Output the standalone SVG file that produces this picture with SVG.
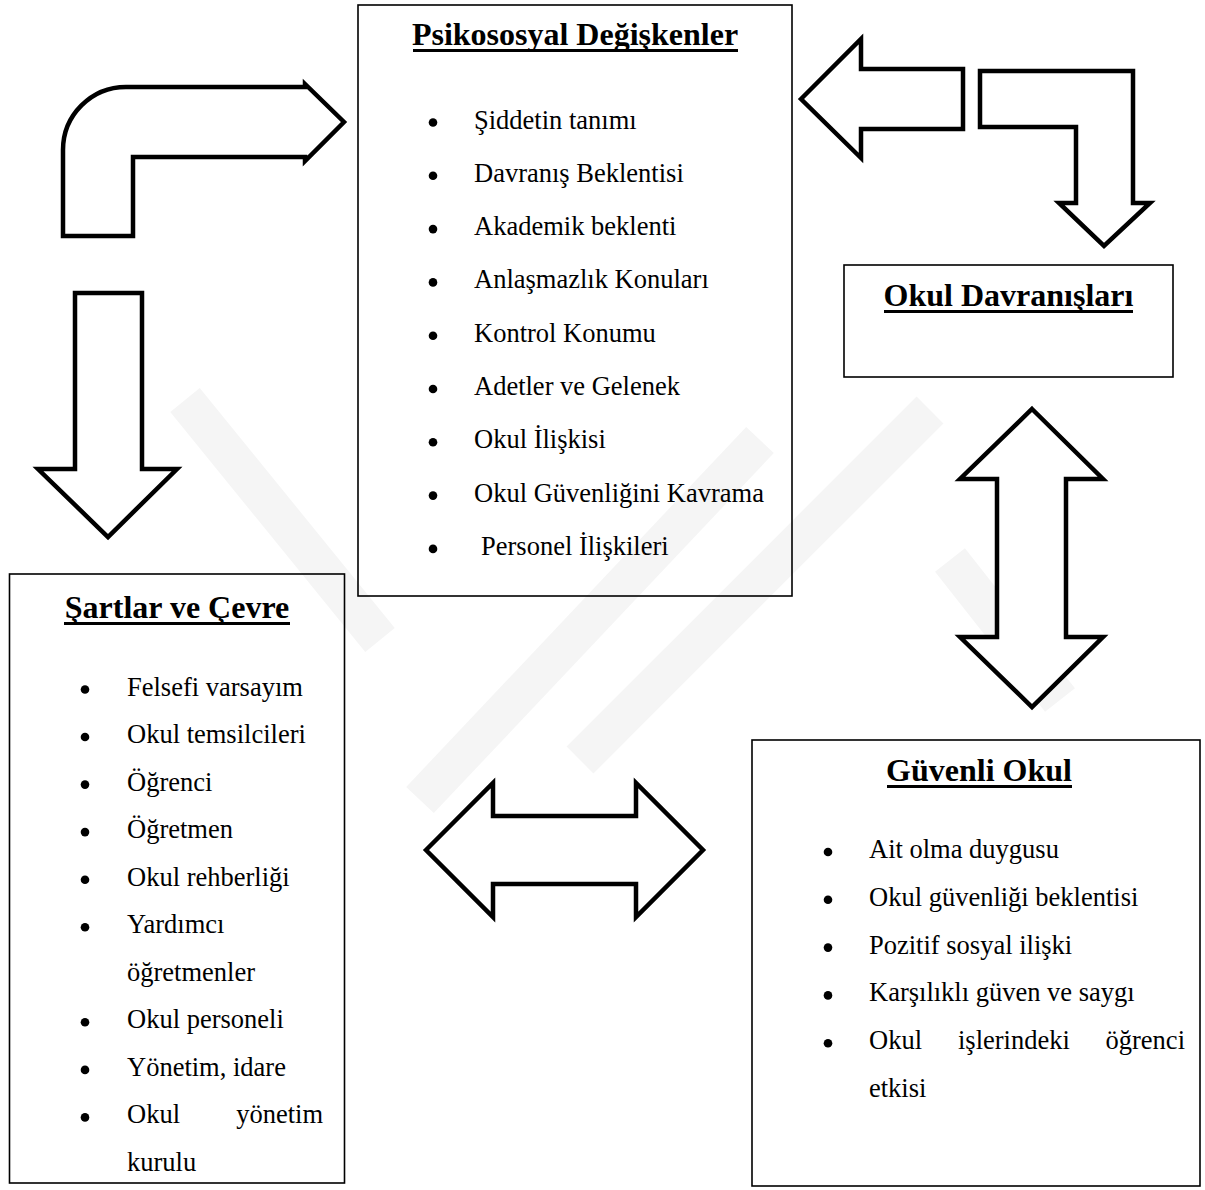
<svg xmlns="http://www.w3.org/2000/svg" width="1205" height="1190" viewBox="0 0 1205 1190">
<style>
.box{fill:none;stroke:#000;stroke-width:1.6}
.arr{fill:#fff;stroke:#000;stroke-width:4.5;stroke-linejoin:miter;stroke-miterlimit:10}
.t{font-family:"Liberation Serif","Times New Roman",serif;font-size:26.5px;fill:#000}
.h{font-family:"Liberation Serif","Times New Roman",serif;font-size:32px;font-weight:bold;fill:#000;text-anchor:middle}
.b{fill:#000}
.wm{fill:none;stroke:#f5f5f5;stroke-width:38;stroke-linecap:butt}
</style>
<rect width="1205" height="1190" fill="#fff"/>
<g id="watermark">
<line class="wm" x1="185" y1="400" x2="380" y2="640"/>
<line class="wm" x1="420" y1="800" x2="760" y2="440"/>
<line class="wm" x1="580" y1="760" x2="930" y2="410"/>
<line class="wm" x1="950" y1="560" x2="1060" y2="700"/>
</g>
<g id="connectors">
<path id="bent-arrow-left" class="arr" d="M63 236 L63 150 A63 63 0 0 1 126 87 L305 87 L305 84 L344 122 L305 161 L305 157 L133 157 L133 236 Z"/>
<path id="down-arrow-left" class="arr" d="M75 293 L142 293 L142 469 L177 469 L108 537 L38 469 L75 469 Z"/>
<path id="left-arrow-top" class="arr" d="M801 99 L861 39 L861 69 L963 69 L963 129 L861 129 L861 158 Z"/>
<path id="bent-arrow-right" class="arr" d="M980 71 L1133 71 L1133 203 L1150 203 L1104 246 L1059 203 L1076 203 L1076 127 L980 127 Z"/>
<path id="updown-arrow" class="arr" d="M1032 409 L1103 479 L1066 479 L1066 637 L1103 637 L1032 707 L960 637 L997 637 L997 479 L960 479 Z"/>
<path id="leftright-arrow" class="arr" d="M426 850 L493 783 L493 816 L636 816 L636 783 L703 850 L636 917 L636 884 L493 884 L493 917 Z"/>
</g>
<g id="psikososyal">
<rect class="box" x="358" y="5" width="434" height="591"/>
<text class="h" x="575" y="45">Psikososyal Değişkenler</text>
<rect x="413" y="49" width="325" height="3" fill="#000"/>
<g class="b">
<circle cx="433" cy="122.5" r="4.3"/><circle cx="433" cy="175.8" r="4.3"/><circle cx="433" cy="229.1" r="4.3"/>
<circle cx="433" cy="282.4" r="4.3"/><circle cx="433" cy="335.7" r="4.3"/><circle cx="433" cy="389" r="4.3"/>
<circle cx="433" cy="442.3" r="4.3"/><circle cx="433" cy="495.6" r="4.3"/><circle cx="433" cy="548.9" r="4.3"/>
</g>
<text class="t" x="474" y="128.5">Şiddetin tanımı</text>
<text class="t" x="474" y="181.8">Davranış Beklentisi</text>
<text class="t" x="474" y="235.1">Akademik beklenti</text>
<text class="t" x="474" y="288.4">Anlaşmazlık Konuları</text>
<text class="t" x="474" y="341.7">Kontrol Konumu</text>
<text class="t" x="474" y="395">Adetler ve Gelenek</text>
<text class="t" x="474" y="448.3">Okul İlişkisi</text>
<text class="t" x="474" y="501.6">Okul Güvenliğini Kavrama</text>
<text class="t" x="481" y="554.9">Personel İlişkileri</text>
</g>
<g id="okul-davranislari">
<rect class="box" x="844" y="265" width="329" height="112"/>
<text class="h" x="1008.5" y="306">Okul Davranışları</text>
<rect x="884" y="310" width="249" height="3" fill="#000"/>
</g>
<g id="sartlar-cevre">
<rect class="box" x="9.5" y="574" width="335" height="609"/>
<text class="h" x="177" y="618">Şartlar ve Çevre</text>
<rect x="64" y="622" width="226" height="3" fill="#000"/>
<g class="b">
<circle cx="85" cy="689.5" r="4.3"/><circle cx="85" cy="737" r="4.3"/><circle cx="85" cy="784.6" r="4.3"/>
<circle cx="85" cy="832.1" r="4.3"/><circle cx="85" cy="879.7" r="4.3"/><circle cx="85" cy="927.2" r="4.3"/>
<circle cx="85" cy="1022.3" r="4.3"/><circle cx="85" cy="1069.9" r="4.3"/><circle cx="85" cy="1117.4" r="4.3"/>
</g>
<text class="t" x="127" y="695.5">Felsefi varsayım</text>
<text class="t" x="127" y="743">Okul temsilcileri</text>
<text class="t" x="127" y="790.6">Öğrenci</text>
<text class="t" x="127" y="838.1">Öğretmen</text>
<text class="t" x="127" y="885.7">Okul rehberliği</text>
<text class="t" x="127" y="933.2">Yardımcı</text>
<text class="t" x="127" y="980.8">öğretmenler</text>
<text class="t" x="127" y="1028.3">Okul personeli</text>
<text class="t" x="127" y="1075.9">Yönetim, idare</text>
<text class="t" x="127" y="1123.4">Okul</text>
<text class="t" x="323" y="1123.4" text-anchor="end">yönetim</text>
<text class="t" x="127" y="1171">kurulu</text>
</g>
<g id="guvenli-okul">
<rect class="box" x="752" y="740" width="448" height="446"/>
<text class="h" x="979" y="781">Güvenli Okul</text>
<rect x="887" y="785" width="185" height="3" fill="#000"/>
<g class="b">
<circle cx="828" cy="852" r="4.3"/><circle cx="828" cy="899.8" r="4.3"/><circle cx="828" cy="947.6" r="4.3"/>
<circle cx="828" cy="995.4" r="4.3"/><circle cx="828" cy="1043.2" r="4.3"/>
</g>
<text class="t" x="869" y="858">Ait olma duygusu</text>
<text class="t" x="869" y="905.8">Okul güvenliği beklentisi</text>
<text class="t" x="869" y="953.6">Pozitif sosyal ilişki</text>
<text class="t" x="869" y="1001.4">Karşılıklı güven ve saygı</text>
<text class="t" x="869" y="1049.2">Okul</text>
<text class="t" x="958" y="1049.2">işlerindeki</text>
<text class="t" x="1185" y="1049.2" text-anchor="end">öğrenci</text>
<text class="t" x="869" y="1097">etkisi</text>
</g>
</svg>
